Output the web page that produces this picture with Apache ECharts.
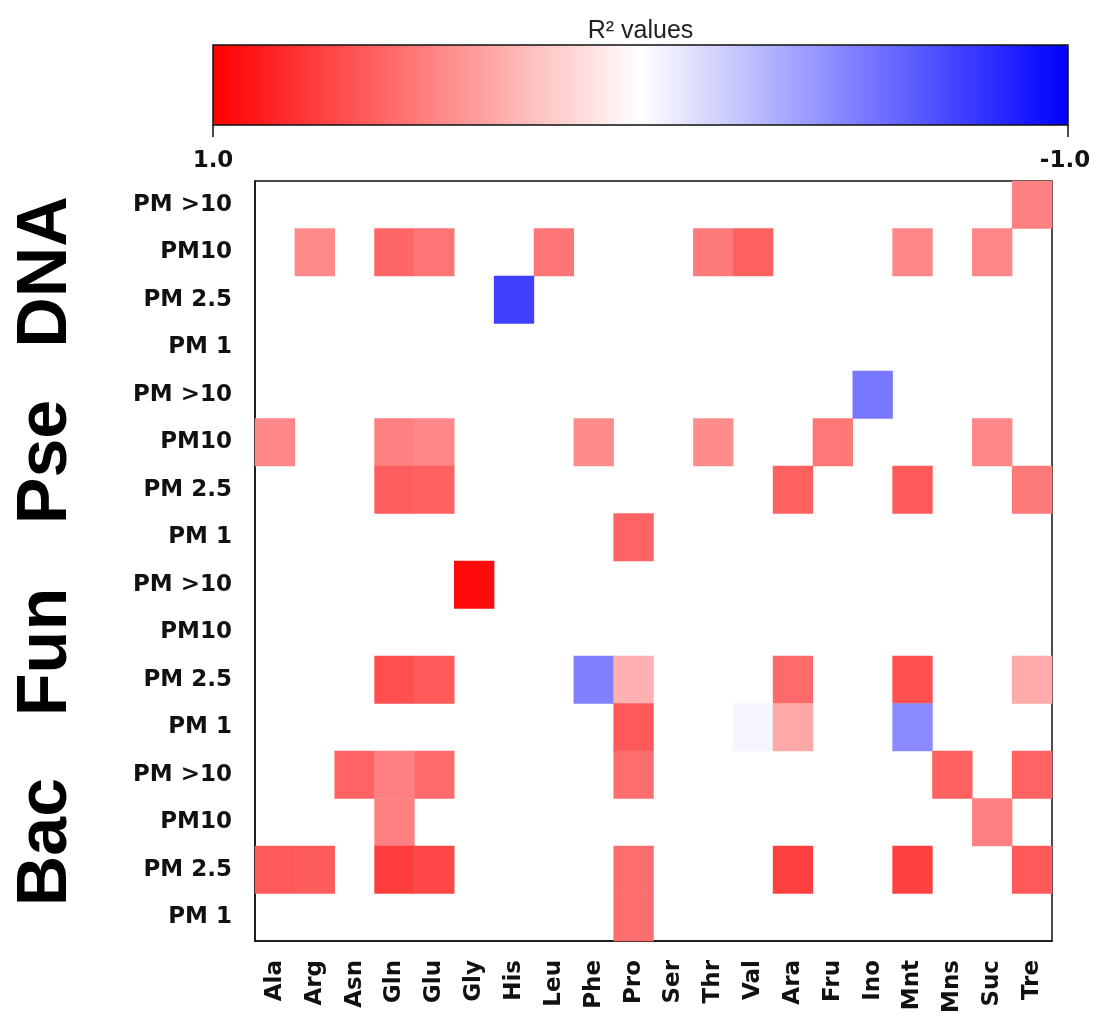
<!DOCTYPE html>
<html>
<head>
<meta charset="utf-8">
<script src="https://cdn.jsdelivr.net/npm/echarts@6/dist/echarts.min.js"></script>
<style>
  html, body { margin: 0; padding: 0; background: #fff; }
  #chart { width: 1093px; height: 1017px; }
</style>
</head>
<body>
<div id="chart"></div>
<script>
// Amino acids and sugars along the bottom
const compounds = ['Ala', 'Arg', 'Asn', 'Gln', 'Glu', 'Gly', 'His', 'Leu', 'Phe', 'Pro',
                   'Ser', 'Thr', 'Val', 'Ara', 'Fru', 'Ino', 'Mnt', 'Mns', 'Suc', 'Tre'];
// Particle size classes, repeated inside each group
const sizeClasses = ['PM >10', 'PM10', 'PM 2.5', 'PM 1'];
// Groups, top to bottom
const groups = ['DNA', 'Pse', 'Fun', 'Bac'];
// Colour ramp from -1 (blue) through 0 (white) to 1 (red)
const colorStops = ['#0000ff', '#ffffff', '#ff0000'];
const scaleMin = -1;
const scaleMax = 1;
const scaleEndLabels = ['1.0', '-1.0'];
const scaleTitle = 'R\u00b2 values';

// Significant R² values: [compound, group, size class, value]; all other cells are blank
const cells = [
  ['Tre', 'DNA', 'PM >10', 0.50],

  ['Arg', 'DNA', 'PM10', 0.46],
  ['Gln', 'DNA', 'PM10', 0.60],
  ['Glu', 'DNA', 'PM10', 0.54],
  ['Leu', 'DNA', 'PM10', 0.54],
  ['Thr', 'DNA', 'PM10', 0.52],
  ['Val', 'DNA', 'PM10', 0.62],
  ['Mnt', 'DNA', 'PM10', 0.47],
  ['Suc', 'DNA', 'PM10', 0.47],

  ['His', 'DNA', 'PM 2.5', -0.75],

  ['Ino', 'Pse', 'PM >10', -0.53],

  ['Ala', 'Pse', 'PM10', 0.47],
  ['Gln', 'Pse', 'PM10', 0.50],
  ['Glu', 'Pse', 'PM10', 0.47],
  ['Phe', 'Pse', 'PM10', 0.45],
  ['Thr', 'Pse', 'PM10', 0.45],
  ['Fru', 'Pse', 'PM10', 0.53],
  ['Suc', 'Pse', 'PM10', 0.47],

  ['Gln', 'Pse', 'PM 2.5', 0.63],
  ['Glu', 'Pse', 'PM 2.5', 0.62],
  ['Ara', 'Pse', 'PM 2.5', 0.62],
  ['Mnt', 'Pse', 'PM 2.5', 0.65],
  ['Tre', 'Pse', 'PM 2.5', 0.52],

  ['Pro', 'Pse', 'PM 1', 0.61],

  ['Gly', 'Fun', 'PM >10', 0.96],

  ['Gln', 'Fun', 'PM 2.5', 0.69],
  ['Glu', 'Fun', 'PM 2.5', 0.65],
  ['Phe', 'Fun', 'PM 2.5', -0.50],
  ['Pro', 'Fun', 'PM 2.5', 0.31],
  ['Ara', 'Fun', 'PM 2.5', 0.58],
  ['Mnt', 'Fun', 'PM 2.5', 0.69],
  ['Tre', 'Fun', 'PM 2.5', 0.33],

  ['Pro', 'Fun', 'PM 1', 0.65],
  ['Val', 'Fun', 'PM 1', -0.04],
  ['Ara', 'Fun', 'PM 1', 0.34],
  ['Mnt', 'Fun', 'PM 1', -0.46],

  ['Asn', 'Bac', 'PM >10', 0.61],
  ['Gln', 'Bac', 'PM >10', 0.50],
  ['Glu', 'Bac', 'PM >10', 0.58],
  ['Pro', 'Bac', 'PM >10', 0.57],
  ['Mns', 'Bac', 'PM >10', 0.62],
  ['Tre', 'Bac', 'PM >10', 0.61],

  ['Gln', 'Bac', 'PM10', 0.50],
  ['Suc', 'Bac', 'PM10', 0.50],

  ['Ala', 'Bac', 'PM 2.5', 0.65],
  ['Arg', 'Bac', 'PM 2.5', 0.64],
  ['Gln', 'Bac', 'PM 2.5', 0.76],
  ['Glu', 'Bac', 'PM 2.5', 0.72],
  ['Pro', 'Bac', 'PM 2.5', 0.57],
  ['Ara', 'Bac', 'PM 2.5', 0.75],
  ['Mnt', 'Bac', 'PM 2.5', 0.75],
  ['Tre', 'Bac', 'PM 2.5', 0.65],

  ['Pro', 'Bac', 'PM 1', 0.57]
];

// ---- layout ----
const plot = { left: 255, top: 181, width: 797, height: 760 };
const bar = { left: 213, top: 45, length: 855, thickness: 80 };
const labelFont = 'DejaVu Sans';
const ink = '#111';

const rowKeys = groups.flatMap(g => sizeClasses.map(s => g + '|' + s));
const heatData = cells.map(([c, g, s, v]) => [compounds.indexOf(c), rowKeys.indexOf(g + '|' + s), v]);

const chart = echarts.init(document.getElementById('chart'), null, { renderer: 'canvas' });

chart.setOption({
  backgroundColor: '#fff',
  animation: false,
  grid: {
    left: plot.left, top: plot.top, width: plot.width, height: plot.height,
    show: true, borderColor: ink, borderWidth: 1.5, backgroundColor: '#fff'
  },
  xAxis: {
    type: 'category',
    data: compounds,
    axisLine: { lineStyle: { color: ink, width: 1.5 } },
    axisTick: { alignWithLabel: true, length: 12, lineStyle: { color: ink, width: 1.5 } },
    axisLabel: {
      rotate: 90, margin: 19, interval: 0,
      fontFamily: labelFont, fontWeight: 'bold', fontSize: 23, color: ink
    },
    splitLine: { show: false }
  },
  yAxis: {
    type: 'category',
    data: rowKeys,
    inverse: true,
    axisLine: { lineStyle: { color: ink, width: 1.5 } },
    axisTick: { alignWithLabel: true, length: 13, lineStyle: { color: ink, width: 1.5 } },
    axisLabel: {
      margin: 23, interval: 0,
      fontFamily: labelFont, fontWeight: 'bold', fontSize: 23, color: ink,
      formatter: v => v.split('|')[1]
    },
    splitLine: { show: false }
  },
  visualMap: {
    type: 'continuous',
    min: scaleMin, max: scaleMax,
    orient: 'horizontal',
    inverse: true,
    left: bar.left, top: bar.top,
    itemWidth: bar.thickness, itemHeight: bar.length,
    padding: 0,
    calculable: false,
    hoverLink: false,
    text: null,
    showLabel: false,
    inRange: { color: colorStops }
  },
  series: [{
    type: 'heatmap',
    data: heatData,
    itemStyle: { borderWidth: 0 },
    emphasis: { disabled: true }
  }]
});

// Group labels centred on their four rows, plus the colour-bar frame, ticks and texts
const groupTexts = groups.map((g, i) => {
  const yA = chart.convertToPixel({ gridIndex: 0 }, [0, i * 4])[1];
  const yB = chart.convertToPixel({ gridIndex: 0 }, [0, i * 4 + 3])[1];
  return {
    type: 'text',
    x: 47, y: (yA + yB) / 2 - 4,
    rotation: Math.PI / 2,
    style: {
      text: g, fill: '#000',
      font: 'bold 70px "Liberation Sans", Arial, sans-serif',
      align: 'center', verticalAlign: 'middle'
    }
  };
});

const barRight = bar.left + bar.length;
const barBottom = bar.top + bar.thickness;

chart.setOption({
  graphic: [
    ...groupTexts,
    {
      type: 'rect',
      shape: { x: bar.left, y: bar.top, width: bar.length, height: bar.thickness },
      style: { fill: 'none', stroke: ink, lineWidth: 1.5 },
      z: 100
    },
    {
      type: 'line',
      shape: { x1: bar.left, y1: barBottom, x2: bar.left, y2: barBottom + 12 },
      style: { stroke: ink, lineWidth: 1.5 }
    },
    {
      type: 'line',
      shape: { x1: barRight, y1: barBottom, x2: barRight, y2: barBottom + 12 },
      style: { stroke: ink, lineWidth: 1.5 }
    },
    {
      type: 'text', x: bar.left, y: barBottom + 36,
      style: { text: scaleEndLabels[0], fill: ink, font: 'bold 23px "DejaVu Sans"', align: 'center', verticalAlign: 'middle' }
    },
    {
      type: 'text', x: barRight - 3, y: barBottom + 36,
      style: { text: scaleEndLabels[1], fill: ink, font: 'bold 23px "DejaVu Sans"', align: 'center', verticalAlign: 'middle' }
    },
    {
      type: 'text', x: bar.left + bar.length / 2, y: 31,
      style: { text: scaleTitle, fill: '#222', font: '25px "Liberation Sans", Arial, sans-serif', align: 'center', verticalAlign: 'middle' }
    }
  ]
});
</script>
</body>
</html>
